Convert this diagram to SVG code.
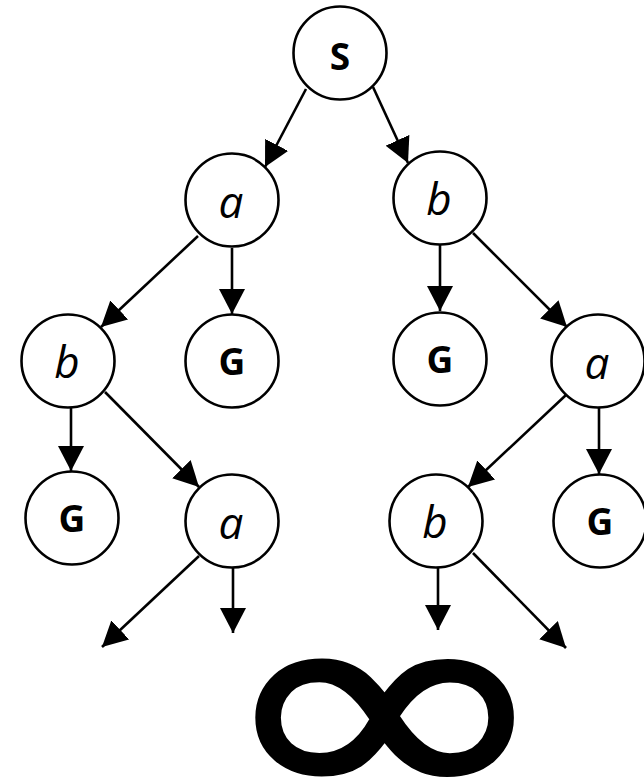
<svg xmlns="http://www.w3.org/2000/svg" width="644" height="781" viewBox="0 0 644 781">
<style>
.node circle{fill:#fff;stroke:#000;stroke-width:2.6}
.bold{font-family:"Open Sans","Noto Sans",sans-serif;font-weight:bold;font-size:37px;text-anchor:middle;fill:#000}
.it{font-family:"Open Sans","Noto Sans",sans-serif;font-style:italic;font-size:44px;text-anchor:middle;fill:#000}
.edges line{stroke:#000;stroke-width:2.6;marker-end:url(#arr)}
.inf{font-family:"DejaVu Sans",sans-serif;font-size:305px;fill:#000;stroke:#000;stroke-width:4;stroke-linejoin:round}
</style>
<defs>
<marker id="arr" viewBox="0 0 25 26" markerWidth="25" markerHeight="26" refX="25" refY="13" orient="auto" markerUnits="userSpaceOnUse">
<path d="M0,0 L25,13 L0,26 Z" fill="#000"/>
</marker>
</defs>
<g class="edges" id="connectors">
<line x1="306" y1="89" x2="265" y2="167"/>
<line x1="373" y1="87" x2="408" y2="163"/>
<line x1="198" y1="236" x2="101" y2="327"/>
<line x1="232" y1="248" x2="232" y2="314"/>
<line x1="440" y1="245" x2="440" y2="311"/>
<line x1="473" y1="233" x2="567" y2="327"/>
<line x1="71" y1="407" x2="71" y2="471"/>
<line x1="105" y1="392" x2="199" y2="487"/>
<line x1="566" y1="395" x2="468" y2="487"/>
<line x1="599" y1="408" x2="599" y2="474"/>
<line x1="199" y1="556" x2="102" y2="647"/>
<line x1="233" y1="568" x2="233" y2="633"/>
<line x1="438" y1="567" x2="438" y2="630"/>
<line x1="473" y1="553" x2="566" y2="648"/>
</g>
<g class="node" id="n-S"><circle cx="340" cy="53" r="46.5"/><text class="bold" x="340" y="70">S</text></g>
<g class="node" id="n-a1"><circle cx="232" cy="200" r="46.5"/><text class="it" x="231" y="218">a</text></g>
<g class="node" id="n-b1"><circle cx="440" cy="198" r="46.5"/><text class="it" x="439" y="215">b</text></g>
<g class="node" id="n-b2"><circle cx="68" cy="361" r="46.5"/><text class="it" x="67" y="378">b</text></g>
<g class="node" id="n-G2a"><circle cx="232" cy="361" r="46.5"/><text class="bold" x="232" y="375">G</text></g>
<g class="node" id="n-G2b"><circle cx="440" cy="359" r="46.5"/><text class="bold" x="440" y="373">G</text></g>
<g class="node" id="n-a2"><circle cx="598" cy="361" r="46.5"/><text class="it" x="597" y="379">a</text></g>
<g class="node" id="n-G3a"><circle cx="72" cy="518" r="46.5"/><text class="bold" x="72" y="532">G</text></g>
<g class="node" id="n-a3"><circle cx="232" cy="521" r="46.5"/><text class="it" x="231" y="539">a</text></g>
<g class="node" id="n-b3"><circle cx="436" cy="521" r="46.5"/><text class="it" x="435" y="538">b</text></g>
<g class="node" id="n-G3b"><circle cx="600" cy="521" r="46.5"/><text class="bold" x="600" y="535">G</text></g>
<text class="inf" transform="translate(214,809) scale(1.343,1)" x="0" y="0">∞</text>
</svg>
